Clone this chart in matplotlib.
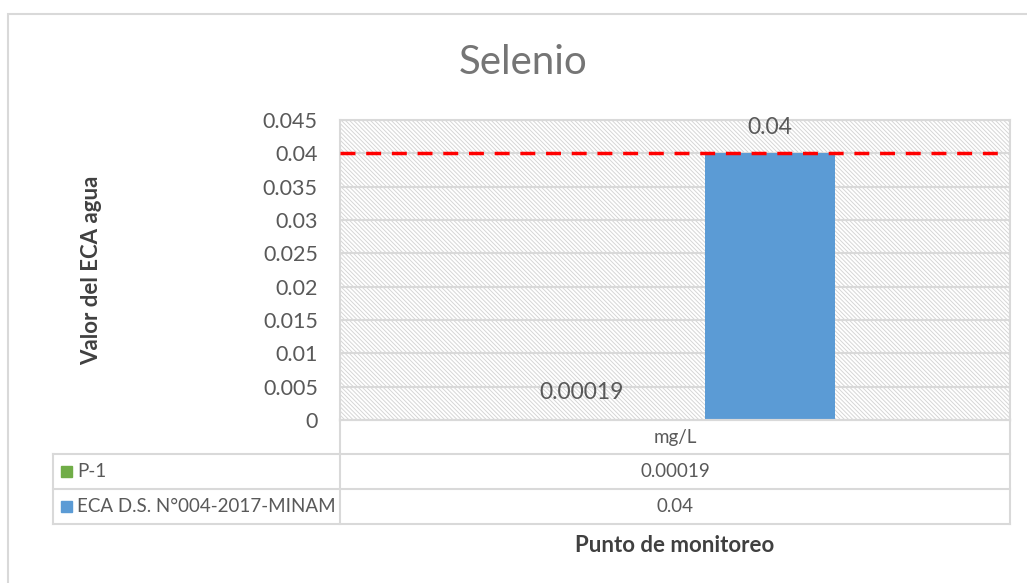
import matplotlib.pyplot as plt
from matplotlib.patches import Rectangle
from matplotlib.lines import Line2D

plt.rcParams['font.family'] = ['Lato', 'DejaVu Sans']
plt.rcParams['hatch.linewidth'] = 0.7

title = "Selenio"
category = "mg/L"
series = ["P-1", "ECA D.S. N°004-2017-MINAM"]
values = [0.00019, 0.04]
value_labels = ["0.00019", "0.04"]
colors = ["#70ad47", "#5b9bd5"]
eca_limit = 0.04
yticks = [0, 0.005, 0.01, 0.015, 0.02, 0.025, 0.03, 0.035, 0.04, 0.045]
ytick_labels = ["0", "0.005", "0.01", "0.015", "0.02", "0.025", "0.03", "0.035", "0.04", "0.045"]

W, H = 1027, 583
fig = plt.figure(figsize=(W / 100, H / 100), dpi=100)
grid_c = "#d9d9d9"
text_c = "#595959"

# outer chart border (only left and top visible)
fig.add_artist(Rectangle((8 / W, -0.1), 1.2, 1 - 14 / H + 0.1, transform=fig.transFigure,
                         fill=False, edgecolor=grid_c, lw=1.5))

ax = fig.add_axes([340 / W, 1 - 420 / H, 670 / W, 300 / H])
ax.set_xlim(-0.5, 0.5)
ax.set_ylim(0, 0.045)

# hatched plot area
ax.add_patch(Rectangle((0, 0), 1, 1, transform=ax.transAxes, facecolor="white",
                       edgecolor="#d6d6d6", hatch="\\" * 8, lw=0, zorder=0))
for y in yticks[1:]:
    ax.axhline(y, color=grid_c, lw=1.5, zorder=1)

offsets = [-0.14, 0.142]
width = 0.194
for off, v, c, lab in zip(offsets, values, colors, value_labels):
    ax.bar(off, v, width=width, color=c, zorder=2)
    ax.text(off, v + 0.0039, lab, ha="center", va="center", fontsize=16.5, color=text_c, zorder=4)

ax.axhline(eca_limit, xmin=0, xmax=0.99, color="red", lw=2.5, ls=(0, (4.3, 3.1)), zorder=3)

ax.set_yticks(yticks)
ax.set_yticklabels(ytick_labels, fontsize=15.5, color=text_c)
ax.tick_params(axis="y", length=0, pad=16)
ax.set_xticks([])
for s in ax.spines.values():
    s.set_color(grid_c)
    s.set_linewidth(1.5)

ax.set_ylabel("Valor del ECA agua", fontsize=16, fontweight="bold", color="#404040", labelpad=0)
ax.yaxis.set_label_coords((102 - 340) / 670, 0.5)

fig.text(523 / W, 1 - 62 / H, title, fontsize=29, color="#757575", ha="center", va="center")

# data table under the axis
tab = fig.add_axes([0, 0, 1, 1], facecolor="none")
tab.set_xlim(0, W)
tab.set_ylim(H, 0)
tab.axis("off")
rows = [420, 454, 489, 524]
left, mid, right = 53, 340, 1010
tab.add_line(Line2D([mid, mid], [rows[0], rows[-1]], color=grid_c, lw=1.5))
tab.add_line(Line2D([right, right], [rows[0], rows[-1]], color=grid_c, lw=1.5))
tab.add_line(Line2D([left, left], [rows[1], rows[-1]], color=grid_c, lw=1.5))
tab.add_line(Line2D([mid, right], [rows[0], rows[0]], color=grid_c, lw=1.5))
for r in rows[1:]:
    tab.add_line(Line2D([left, right], [r, r], color=grid_c, lw=1.5))
tab.text((mid + right) / 2, (rows[0] + rows[1]) / 2, category, ha="center", va="center",
         fontsize=13.5, color=text_c)
for i, (name, c, lab) in enumerate(zip(series, colors, value_labels)):
    yc = (rows[i + 1] + rows[i + 2]) / 2
    tab.add_patch(Rectangle((left + 8, yc - 5.5), 11, 11, color=c))
    tab.text(left + 24, yc, name, ha="left", va="center", fontsize=13.5, color=text_c)
    tab.text((mid + right) / 2, yc, lab, ha="center", va="center", fontsize=13.5, color=text_c)

fig.text(675 / W, 1 - 546 / H, "Punto de monitoreo", fontsize=16, fontweight="bold",
         color="#404040", ha="center", va="center")

fig.savefig("out.png", dpi=100)
